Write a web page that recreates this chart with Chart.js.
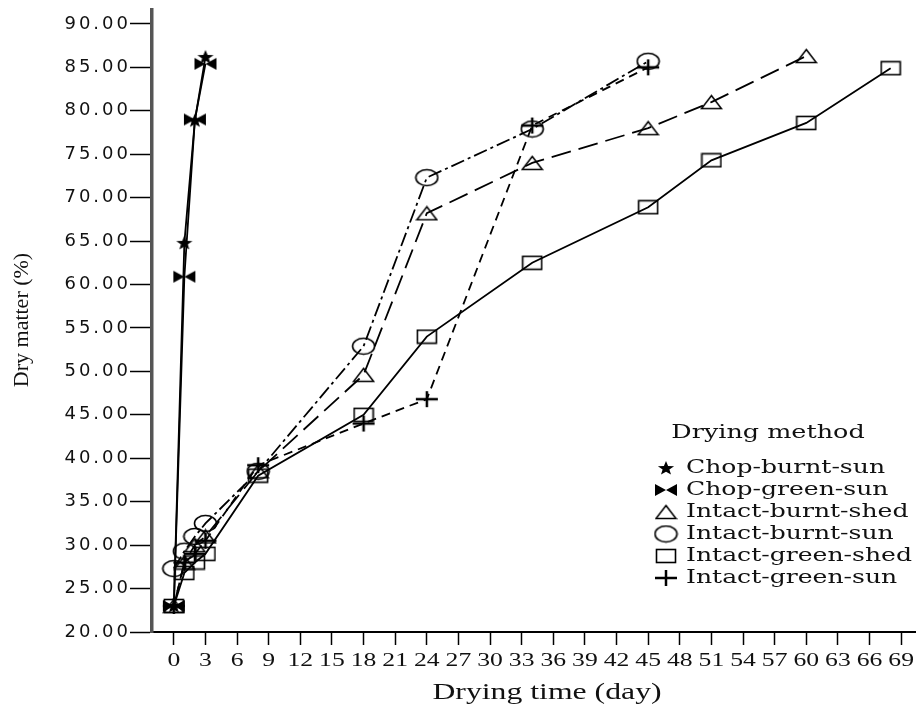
<!DOCTYPE html>
<html>
<head>
<meta charset="utf-8">
<script src="https://cdn.jsdelivr.net/npm/chart.js@4.4.1/dist/chart.umd.min.js"></script>
<style>
  html, body { margin: 0; padding: 0; background: #fff; }
  canvas { display: block; }
</style>
</head>
<body>
<canvas id="chart" width="923" height="711"></canvas>
<script>
'use strict';

// Values (drying time in days, dry matter in %):
var seriesNames = ['Chop-burnt-sun', 'Chop-green-sun', 'Intact-burnt-shed', 'Intact-burnt-sun', 'Intact-green-shed', 'Intact-green-sun'];
var chopDays = [0, 1, 2, 3];
var chopBurntSun = [23.0, 64.8, 78.9, 86.2];
var chopGreenSun = [23.0, 60.9, 79.0, 85.4];
var burntShedDays = [0, 1, 2, 3, 8, 18, 24, 34, 45, 51, 60];
var intactBurntShed = [23.0, 28.0, 30.0, 31.0, 38.5, 49.6, 68.2, 74.0, 78.0, 81.0, 86.3];
var sunDays = [0, 1, 2, 3, 8, 18, 24, 34, 45];
var intactBurntSun = [27.3, 29.3, 31.0, 32.5, 38.5, 52.9, 72.3, 77.9, 85.7];
var intactGreenSun = [23.0, 28.0, 29.0, 30.5, 39.2, 44.0, 46.8, 78.3, 85.0];
var greenShedDays = [0, 1, 2, 3, 8, 18, 24, 34, 45, 51, 60, 68];
var intactGreenShed = [23.0, 26.8, 28.0, 29.0, 38.0, 45.0, 54.0, 62.5, 68.9, 74.3, 78.6, 84.9];

// Axis ticks and texts:
var xTicks = [0, 3, 6, 9, 12, 15, 18, 21, 24, 27, 30, 33, 36, 39, 42, 45, 48, 51, 54, 57, 60, 63, 66, 69];
var yTicks = [20, 25, 30, 35, 40, 45, 50, 55, 60, 65, 70, 75, 80, 85, 90];
var xTitle = 'Drying time (day)';
var yTitle = 'Dry matter (%)';
var legendTitle = 'Drying method';

// Marker images (the reference is stretched sideways, so markers are wide):
var makeMarker = function (w, h, draw) {
    var c = document.createElement('canvas');
    c.width = w;
    c.height = h;
    var g = c.getContext('2d');
    g.strokeStyle = '#000';
    g.fillStyle = '#000';
    draw(g, w, h);
    return c;
};

var starMarker = makeMarker(18, 16, function (g, w, h) {
    g.beginPath();
    for (var i = 0; i < 10; i++) {
        var a = -Math.PI / 2 + i * Math.PI / 5;
        var r = i % 2 === 0 ? 1 : 0.42;
        g.lineTo(w / 2 + Math.cos(a) * r * 8.5, h / 2 + 0.5 + Math.sin(a) * r * 7.5);
    }
    g.closePath();
    g.fill();
});

var bowtieMarker = makeMarker(24, 14, function (g, w, h) {
    g.beginPath();
    g.moveTo(1, 1); g.lineTo(w / 2, h / 2); g.lineTo(1, h - 1); g.closePath();
    g.moveTo(w - 1, 1); g.lineTo(w / 2, h / 2); g.lineTo(w - 1, h - 1); g.closePath();
    g.fill();
});

var triangleMarker = makeMarker(23, 16, function (g, w, h) {
    g.lineWidth = 1.6;
    g.beginPath();
    g.moveTo(w / 2, 1.5); g.lineTo(w - 1.5, h - 1.5); g.lineTo(1.5, h - 1.5); g.closePath();
    g.stroke();
});

var circleMarker = makeMarker(25, 19, function (g, w, h) {
    g.lineWidth = 1.6;
    g.beginPath();
    g.ellipse(w / 2, h / 2, w / 2 - 1.5, h / 2 - 1.5, 0, 0, Math.PI * 2);
    g.stroke();
});

var squareMarker = makeMarker(22, 16, function (g, w, h) {
    g.lineWidth = 1.6;
    g.strokeRect(1.5, 1.5, w - 3, h - 3);
});

var plusMarker = makeMarker(24, 18, function (g, w, h) {
    g.lineWidth = 2.5;
    g.beginPath();
    g.moveTo(1, h / 2); g.lineTo(w - 1, h / 2);
    g.moveTo(w / 2, 1); g.lineTo(w / 2, h - 1);
    g.stroke();
});

var markers = [starMarker, bowtieMarker, triangleMarker, circleMarker, squareMarker, plusMarker];
var dashes = [[], [], [20, 8], [14, 4, 3, 4], [], [9, 6]];
var seriesDays = [chopDays, chopDays, burntShedDays, sunDays, greenShedDays, sunDays];
var seriesValues = [chopBurntSun, chopGreenSun, intactBurntShed, intactBurntSun, intactGreenShed, intactGreenSun];

var datasets = seriesNames.map(function (name, i) {
    return {
        label: name,
        data: seriesDays[i].map(function (d, j) { return { x: d, y: seriesValues[i][j] }; }),
        showLine: true,
        borderColor: '#000',
        borderWidth: 1.8,
        borderDash: dashes[i],
        pointStyle: markers[i],
        pointRadius: 6,
        pointHoverRadius: 6,
        clip: false
    };
});

// Helper to draw text, optionally stretched sideways like the reference:
var drawText = function (ctx, text, x, y, font, align, sx, spacing) {
    ctx.save();
    ctx.font = font;
    ctx.fillStyle = '#111';
    ctx.textAlign = align;
    ctx.textBaseline = 'middle';
    if (spacing) {
        ctx.letterSpacing = spacing + 'px';
    }
    ctx.translate(x, y);
    ctx.scale(sx, 1);
    ctx.fillText(text, 0, 0);
    ctx.restore();
};

var textPlugin = {
    id: 'refText',
    afterDraw: function (chart) {
        var ctx = chart.ctx;
        var xs = chart.scales.x;
        var ys = chart.scales.y;

        ys.ticks.forEach(function (t) {
            drawText(ctx, t.value.toFixed(2), 131, ys.getPixelForValue(t.value), '18px "DejaVu Sans"', 'right', 1, 3);
        });
        xs.ticks.forEach(function (t) {
            drawText(ctx, String(t.value), xs.getPixelForValue(t.value), 661, '19px "Liberation Serif"', 'center', 1.35);
        });
        drawText(ctx, xTitle, 547, 693, '23px "Liberation Serif"', 'center', 1.38);

        ctx.save();
        ctx.translate(22, 320);
        ctx.rotate(-Math.PI / 2);
        drawText(ctx, yTitle, 0, 0, '22px "Liberation Serif"', 'center', 1);
        ctx.restore();

        // Legend, inside the plot at the lower right:
        drawText(ctx, legendTitle, 768, 433, '19px "DejaVu Serif"', 'center', 1.34);
        seriesNames.forEach(function (name, i) {
            var y = 468 + i * 22;
            var m = markers[i];
            ctx.drawImage(m, 666 - m.width / 2, y - m.height / 2);
            drawText(ctx, name, 686, y, '19px "DejaVu Serif"', 'left', 1.32);
        });
    }
};

new Chart(document.getElementById('chart'), {
    type: 'scatter',
    data: { datasets: datasets },
    options: {
        responsive: false,
        animation: false,
        devicePixelRatio: 1,
        layout: { padding: { top: 10, right: 0, left: 0, bottom: 0 } },
        plugins: {
            legend: { display: false },
            tooltip: { enabled: false }
        },
        scales: {
            x: {
                type: 'linear',
                min: -2.07,
                max: 70.33,
                afterBuildTicks: function (scale) {
                    scale.ticks = xTicks.map(function (v) { return { value: v }; });
                },
                afterFit: function (scale) { scale.height = 79; },
                ticks: { display: false },
                grid: { drawOnChartArea: false, tickLength: 13, tickColor: '#000', tickWidth: 1.5 },
                border: { color: '#000', width: 2 }
            },
            y: {
                type: 'linear',
                min: 20,
                max: 91.6,
                afterBuildTicks: function (scale) {
                    scale.ticks = yTicks.map(function (v) { return { value: v }; });
                },
                afterFit: function (scale) { scale.width = 152; },
                ticks: { display: false },
                grid: { drawOnChartArea: false, tickLength: 22, tickColor: '#000', tickWidth: 1.5 },
                border: { color: '#555', width: 3.5 }
            }
        }
    },
    plugins: [textPlugin]
});
</script>
</body>
</html>
